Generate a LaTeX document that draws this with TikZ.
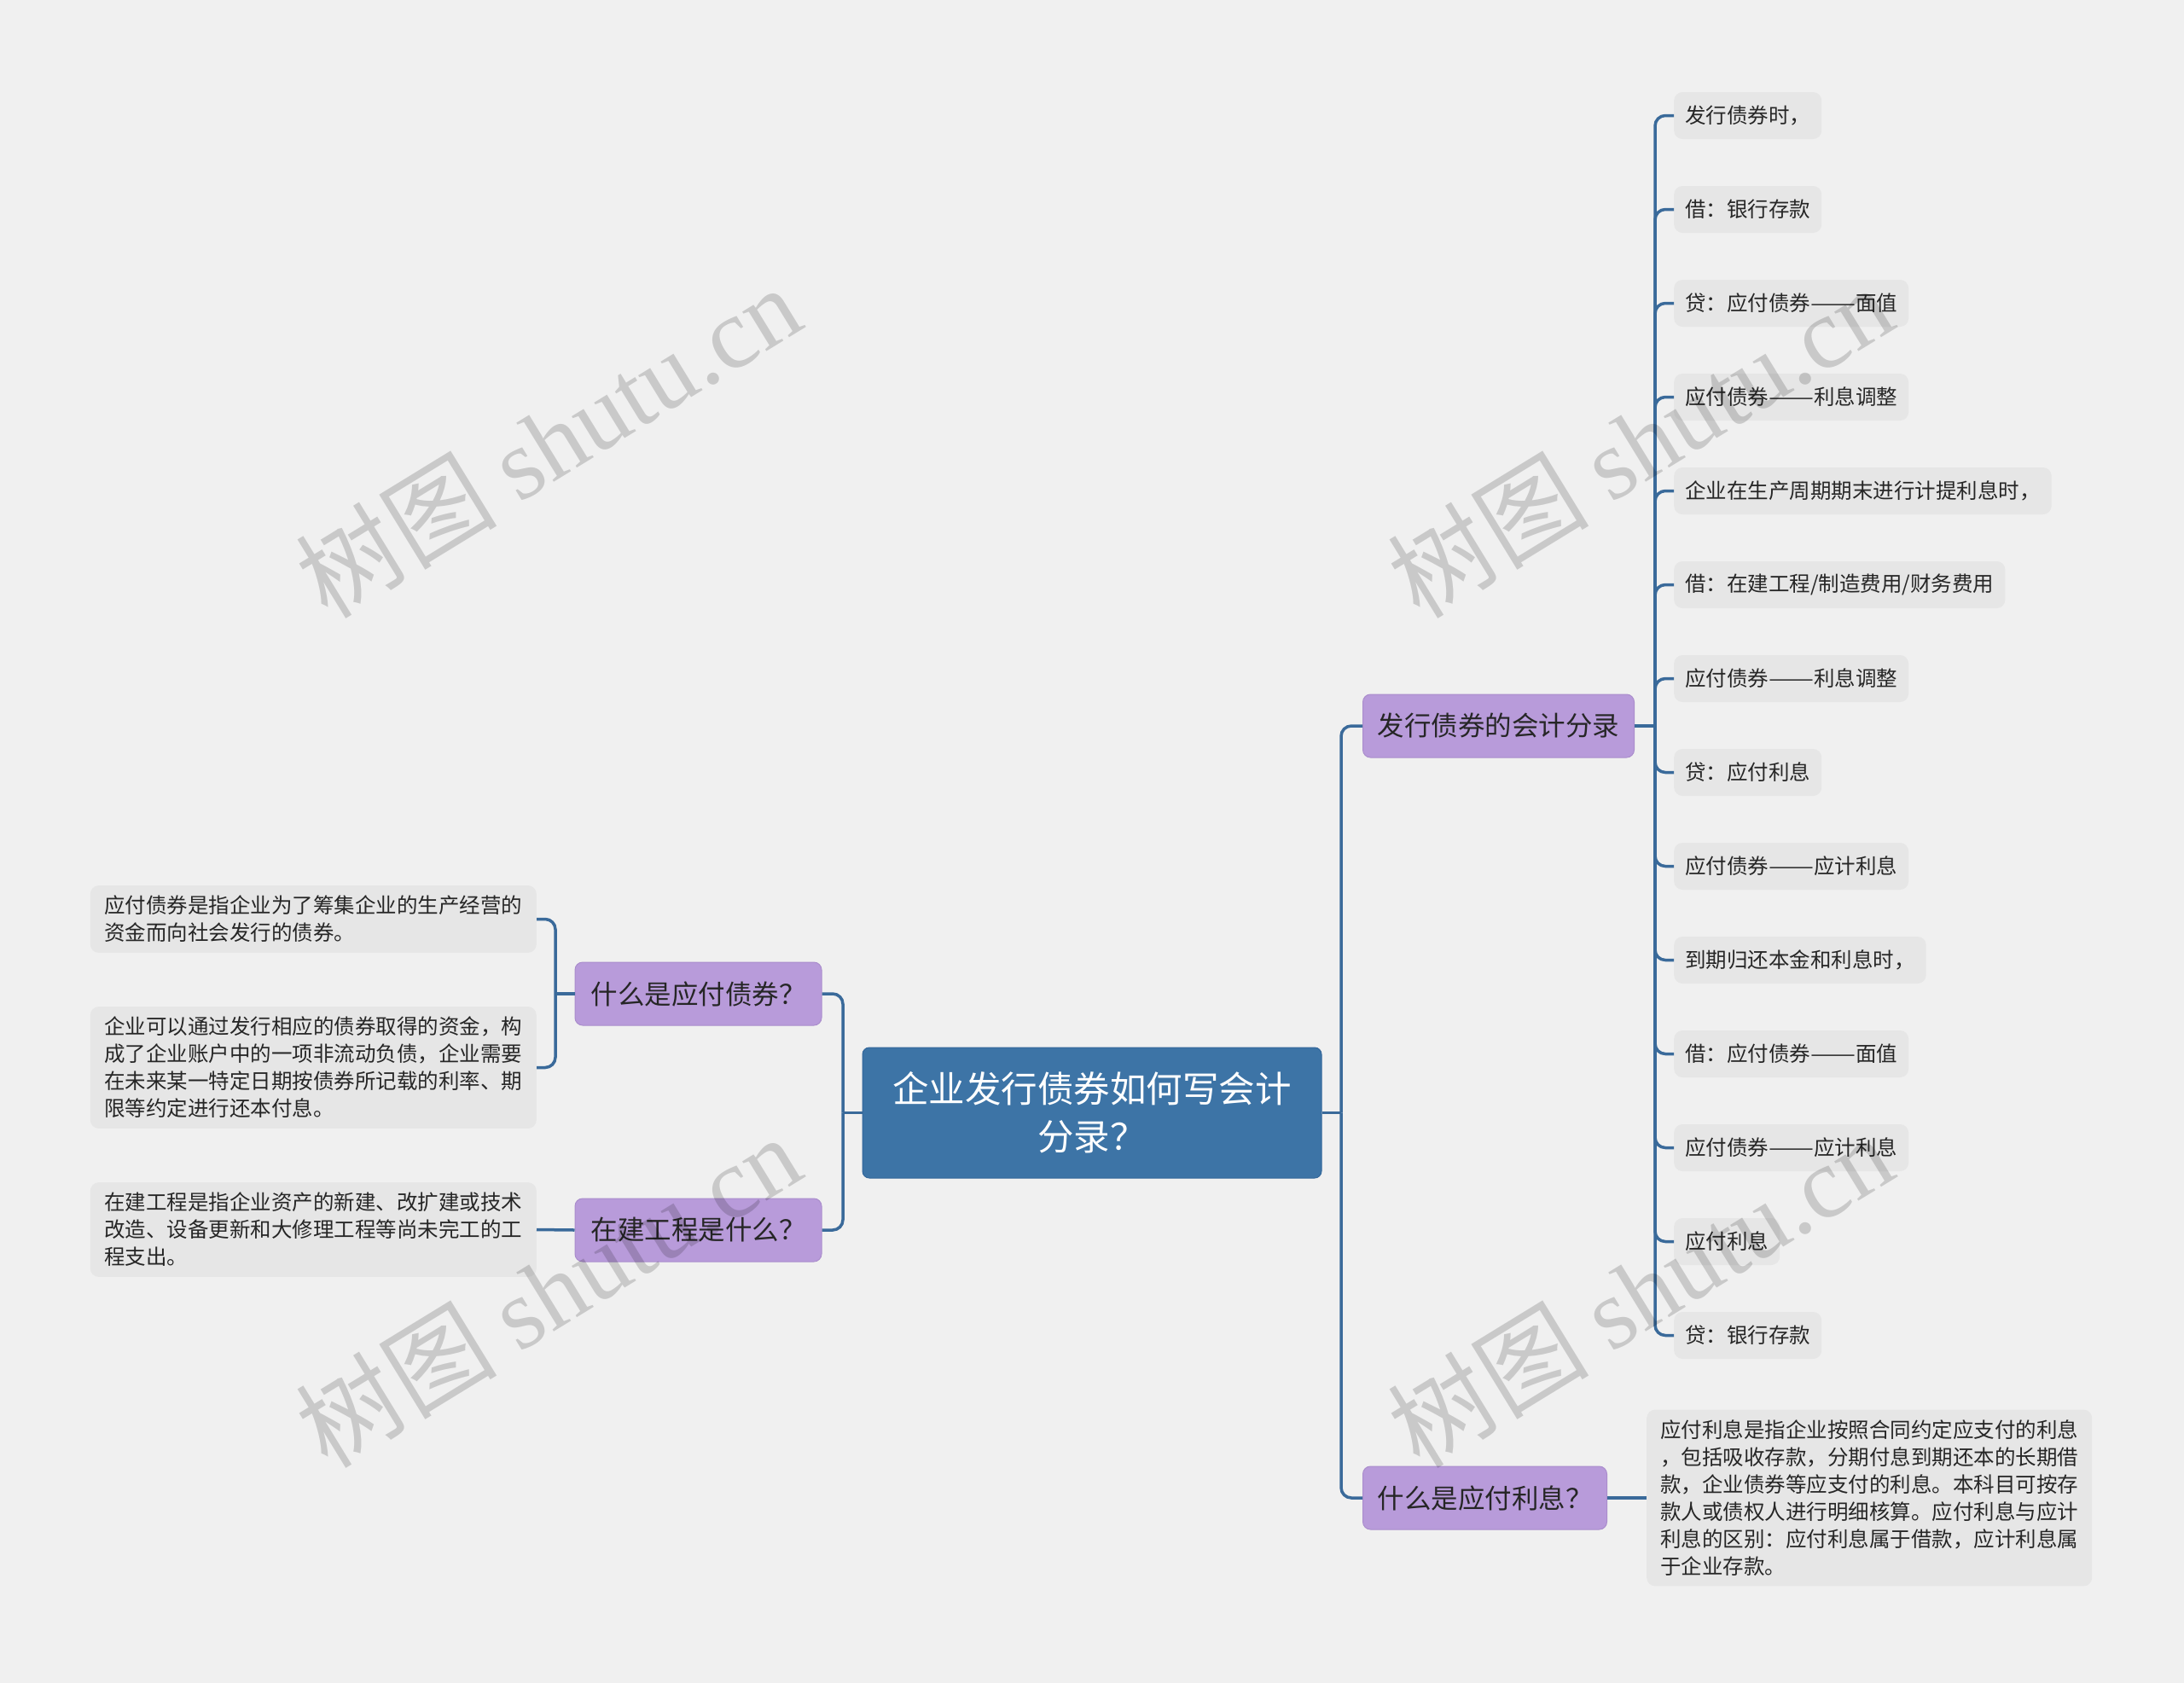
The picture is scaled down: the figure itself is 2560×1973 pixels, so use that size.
\documentclass[tikz,border=0pt]{standalone}
\usepackage{fontspec}
\usepackage{graphicx}
\setmainfont{Noto Sans CJK SC}
\newfontfamily\wmserif{Liberation Serif}
\newcommand\twodash{\scalebox{1.29}[1]{——}}
\definecolor{bg}{HTML}{F0F0F0}
\definecolor{cfill}{HTML}{3D74A6}
\definecolor{cdraw}{HTML}{33669A}
\definecolor{pfill}{HTML}{B89BDA}
\definecolor{pdraw}{HTML}{AA8DCC}
\definecolor{lfill}{HTML}{E6E6E6}
\definecolor{conn}{HTML}{3A6A9A}
\definecolor{txt}{HTML}{262626}
\tikzset{
  centerbox/.style={rectangle, rounded corners=8pt, fill=cfill, draw=cdraw, line width=1pt,
    text=white, font=\fontsize{42.5}{56}\selectfont, align=center,
    minimum width=538pt, minimum height=153pt, inner sep=0pt},
  topic/.style={rectangle, rounded corners=9pt, fill=pfill, draw=pdraw, line width=1pt,
    text=txt, font=\fontsize{31.5}{38}\selectfont, minimum height=74pt,
    inner xsep=15pt, inner ysep=0pt},
  leaf/.style={rectangle, rounded corners=10pt, fill=lfill, text=txt,
    font=\fontsize{24.5}{32}\selectfont, minimum height=55pt,
    inner xsep=13pt, inner ysep=0pt, anchor=west},
  note/.style={rectangle, rounded corners=10pt, fill=lfill, text=txt,
    font=\fontsize{24.5}{32}\selectfont, align=left, inner xsep=13pt, inner ysep=12pt,
    minimum width=523pt},
  link/.style={draw=conn, line width=3.5pt, rounded corners=12pt},
  wm/.style={text=black, opacity=0.16, rotate=31.5, font=\fontsize{118}{120}\selectfont}
}
\begin{document}
\begin{tikzpicture}[x=1pt, y=-1pt]
\useasboundingbox[fill=bg] (0,0) rectangle (2560,1973);

% central node
\node[centerbox] (c) at (1280,1304.5) {企业发行债券如何写会计\\分录？};

% right topics
\node[topic, anchor=west, minimum width=318pt] (fa) at (1597,851) {发行债券的会计分录};
\node[topic, anchor=west, minimum width=286pt] (yl) at (1597,1756) {什么是应付利息？};
\node[note, anchor=west, minimum width=522pt] (nr) at (1930,1756) {应付利息是指企业按照合同约定应支付的利息\\，包括吸收存款，分期付息到期还本的长期借\\款，企业债券等应支付的利息。本科目可按存\\款人或债权人进行明细核算。应付利息与应计\\利息的区别：应付利息属于借款，应计利息属\\于企业存款。};

% right leaves
\node[leaf] (r1) at (1962,135.5) {发行债券时，};
\node[leaf] (r2) at (1962,245.5) {借：银行存款};
\node[leaf] (r3) at (1962,355.5) {贷：应付债券\twodash 面值};
\node[leaf] (r4) at (1962,465.5) {应付债券\twodash 利息调整};
\node[leaf] (r5) at (1962,575.5) {企业在生产周期期末进行计提利息时，};
\node[leaf] (r6) at (1962,685.5) {借：在建工程/制造费用/财务费用};
\node[leaf] (r7) at (1962,795.5) {应付债券\twodash 利息调整};
\node[leaf] (r8) at (1962,905.5) {贷：应付利息};
\node[leaf] (r9) at (1962,1015.5) {应付债券\twodash 应计利息};
\node[leaf] (r10) at (1962,1125.5) {到期归还本金和利息时，};
\node[leaf] (r11) at (1962,1235.5) {借：应付债券\twodash 面值};
\node[leaf] (r12) at (1962,1345.5) {应付债券\twodash 应计利息};
\node[leaf] (r13) at (1962,1455.5) {应付利息};
\node[leaf] (r14) at (1962,1565.5) {贷：银行存款};

% left topics
\node[topic, minimum width=289pt] (q1) at (818.5,1165) {什么是应付债券？};
\node[topic, minimum width=289pt] (q2) at (818.5,1442) {在建工程是什么？};

% left notes
\node[note, anchor=east] (n1) at (629,1077.5) {应付债券是指企业为了筹集企业的生产经营的\\资金而向社会发行的债券。};
\node[note, anchor=east] (n2) at (629,1251.5) {企业可以通过发行相应的债券取得的资金，构\\成了企业账户中的一项非流动负债，企业需要\\在未来某一特定日期按债券所记载的利率、期\\限等约定进行还本付息。};
\node[note, anchor=east] (n3) at (629,1441.5) {在建工程是指企业资产的新建、改扩建或技术\\改造、设备更新和大修理工程等尚未完工的工\\程支出。};

% connectors right
\coordinate (sR) at (1572,1304.5);
\draw[link] (c.east) -- (sR);
\draw[link] (sR) |- (fa.west);
\draw[link] (sR) |- (yl.west);
\draw[link] (yl.east) -- (nr.west);

\coordinate (sF) at (1940,851);
\draw[link] (fa.east) -- (sF);
\foreach \i in {1,...,14} {\draw[link] (sF) |- (r\i.west);}

% connectors left
\coordinate (sL) at (988,1304.5);
\draw[link] (c.west) -- (sL);
\draw[link] (sL) |- (q1.east);
\draw[link] (sL) |- (q2.east);
\coordinate (sQ) at (651,1165);
\draw[link] (q1.west) -- (sQ);
\draw[link] (sQ) |- (n1.east);
\draw[link] (sQ) |- (n2.east);
\draw[link] (q2.west) -- (n3.east);

% watermarks
\node[wm] (w1) at (642,517) {树图 {\wmserif shutu.cn}};
\node[wm] (w2) at (1922,517) {树图 {\wmserif shutu.cn}};
\node[wm] (w3) at (642,1513) {树图 {\wmserif shutu.cn}};
\node[wm] (w4) at (1922,1513) {树图 {\wmserif shutu.cn}};
\end{tikzpicture}
\end{document}
